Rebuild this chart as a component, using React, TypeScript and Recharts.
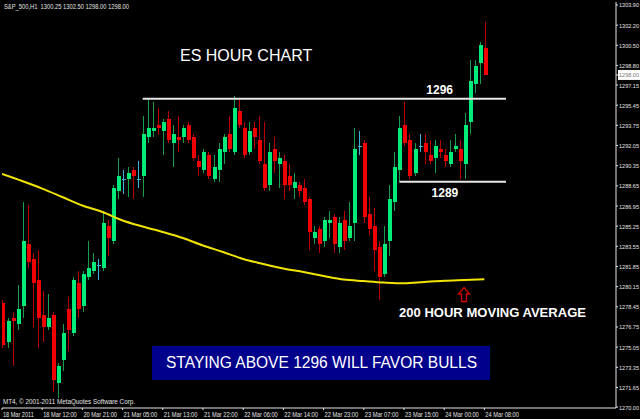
import React from 'react';
import { ComposedChart, Bar, Line, XAxis, YAxis, ReferenceLine } from 'recharts';

// Hourly S&P 500 futures bars, oldest first
const opens = [
  1278.75, 1275.5, 1277.5, 1277.0, 1278.5, 1283.75, 1282.5, 1280.75, 1277.75, 1276.75,
  1277.75, 1272.0, 1274.0, 1278.25, 1276.25, 1280.5, 1278.5, 1281.0, 1281.5, 1282.0,
  1281.75, 1285.25, 1284.0, 1288.25, 1289.25, 1289.25, 1290.0, 1289.25, 1289.5, 1292.75,
  1293.25, 1293.75, 1293.25, 1294.25, 1292.25, 1292.75, 1292.75, 1293.75, 1292.75, 1290.75,
  1290.0, 1291.25, 1289.25, 1290.0, 1291.5, 1293.0, 1291.5, 1295.0, 1293.5, 1291.5,
  1293.5, 1292.5, 1290.5, 1288.75, 1291.75, 1290.5, 1290.75, 1289.5, 1288.5, 1288.75,
  1288.5, 1287.5, 1284.25, 1285.0, 1284.0, 1285.5, 1286.0, 1283.5, 1285.75, 1284.25,
  1285.5, 1292.0, 1292.25, 1286.25, 1285.25, 1283.5, 1281.25, 1284.0, 1287.25, 1290.0,
  1293.75, 1292.5, 1289.75, 1292.0, 1292.25, 1291.25, 1291.0, 1291.75, 1291.25, 1290.5,
  1291.75, 1291.75, 1290.5, 1294.0, 1297.25, 1299.0, 1300.25,
];
const highs = [
  1279.0, 1277.5, 1278.0, 1280.25, 1287.25, 1287.0, 1283.0, 1283.25, 1279.75, 1279.5,
  1278.0, 1273.75, 1277.0, 1279.25, 1281.0, 1281.5, 1281.5, 1284.0, 1283.0, 1282.5,
  1286.5, 1285.75, 1288.75, 1291.0, 1290.0, 1290.25, 1290.25, 1290.75, 1294.5, 1296.0,
  1295.75, 1295.25, 1294.25, 1295.0, 1293.75, 1294.5, 1293.75, 1294.0, 1293.0, 1291.25,
  1291.75, 1291.5, 1291.25, 1292.25, 1293.0, 1294.5, 1296.25, 1296.0, 1294.0, 1294.0,
  1294.0, 1294.5, 1294.0, 1292.25, 1292.75, 1291.5, 1291.25, 1290.5, 1289.75, 1289.0,
  1289.25, 1287.75, 1285.25, 1285.25, 1286.0, 1286.5, 1286.25, 1286.0, 1286.5, 1287.25,
  1293.5, 1293.25, 1292.5, 1287.75, 1286.75, 1284.0, 1285.25, 1288.75, 1291.5, 1294.5,
  1295.75, 1293.0, 1292.25, 1293.0, 1293.0, 1292.5, 1292.5, 1292.5, 1291.75, 1292.5,
  1293.0, 1292.5, 1294.75, 1299.25, 1299.25, 1300.75, 1302.5,
];
const lows = [
  1275.0, 1275.0, 1273.5, 1276.5, 1277.5, 1281.75, 1276.75, 1275.0, 1275.5, 1276.5,
  1271.25, 1270.75, 1273.0, 1274.75, 1276.0, 1277.5, 1278.0, 1280.75, 1281.25, 1280.75,
  1281.5, 1282.75, 1283.75, 1287.5, 1288.0, 1287.75, 1287.5, 1288.5, 1287.75, 1292.25,
  1292.75, 1293.0, 1291.25, 1292.25, 1290.25, 1291.5, 1292.25, 1292.25, 1290.75, 1289.5,
  1289.75, 1289.25, 1289.0, 1289.0, 1290.5, 1291.5, 1291.25, 1293.5, 1291.0, 1291.25,
  1291.75, 1290.5, 1288.25, 1288.25, 1289.75, 1288.5, 1287.5, 1288.25, 1287.5, 1287.75,
  1287.0, 1283.25, 1283.75, 1283.0, 1283.5, 1284.25, 1283.0, 1283.0, 1283.25, 1284.0,
  1284.0, 1291.25, 1285.5, 1284.5, 1281.5, 1279.0, 1281.0, 1282.75, 1286.5, 1289.0,
  1292.0, 1289.25, 1289.5, 1291.5, 1290.5, 1290.5, 1289.75, 1291.0, 1290.25, 1290.25,
  1291.5, 1289.25, 1289.25, 1293.0, 1296.5, 1297.25, 1298.0,
];
const closes = [
  1275.25, 1277.25, 1277.25, 1278.25, 1284.0, 1282.25, 1280.5, 1277.5, 1276.75, 1277.5,
  1272.25, 1273.5, 1276.25, 1276.5, 1280.75, 1278.25, 1281.25, 1281.75, 1282.25, 1282.0,
  1285.5, 1284.25, 1288.5, 1289.5, 1289.25, 1289.75, 1289.5, 1289.25, 1293.0, 1293.5,
  1293.5, 1293.5, 1294.0, 1292.5, 1293.0, 1292.5, 1293.5, 1292.5, 1291.0, 1290.25,
  1291.5, 1289.5, 1290.25, 1291.75, 1292.75, 1291.75, 1295.25, 1293.75, 1291.25, 1293.25,
  1292.75, 1290.75, 1288.5, 1291.5, 1290.75, 1291.0, 1288.75, 1288.75, 1289.0, 1288.25,
  1287.25, 1284.75, 1284.75, 1283.75, 1285.75, 1285.75, 1283.75, 1285.5, 1284.0, 1285.25,
  1291.75, 1292.0, 1286.0, 1285.0, 1283.25, 1281.0, 1283.75, 1287.5, 1290.25, 1293.5,
  1292.25, 1289.5, 1291.75, 1292.0, 1291.5, 1290.75, 1292.0, 1291.5, 1290.75, 1291.5,
  1292.0, 1290.75, 1293.75, 1297.5, 1298.75, 1300.5, 1298.0,
];

// 200-period moving average, sampled every fourth bar
const maBars = [0, 4, 8, 12, 16, 20, 24, 28, 32, 36, 40, 44, 48, 52, 56, 60, 64, 68, 72, 76, 80, 84, 88, 92, 96];
const maValues = [
  1289.65, 1289.06, 1288.42, 1287.71, 1286.99, 1286.44, 1285.73, 1285.22, 1284.76, 1284.25,
  1283.62, 1283.07, 1282.48, 1282.06, 1281.68, 1281.38, 1281.05, 1280.75, 1280.62, 1280.5,
  1280.43, 1280.54, 1280.65, 1280.71, 1280.77,
];

const timeTickBars = [0, 8, 16, 24, 32, 40, 48, 56, 64, 72, 80, 88, 96];
const timeTickLabels = [
  '18 Mar 2011', '18 Mar 12:00', '20 Mar 21:00', '21 Mar 05:00', '21 Mar 13:00',
  '21 Mar 22:00', '22 Mar 06:00', '22 Mar 14:00', '22 Mar 23:00', '23 Mar 07:00',
  '23 Mar 15:00', '24 Mar 00:00', '24 Mar 08:00',
];

const priceTicks = [
  1303.9, 1302.2, 1300.5, 1298.8, 1297.15, 1295.45, 1293.75, 1292.05, 1290.35, 1288.65,
  1286.95, 1285.25, 1283.55, 1281.85, 1280.15, 1278.45, 1276.75, 1275.05, 1273.35, 1271.65, 1270.0,
];

const symbol = 'S&P_500,H1';
const resistance = 1296;
const support = 1289;

const last = opens.length - 1;
const lastClose = closes[last];

const rows = opens.map((open, i) => ({
  i,
  open,
  high: highs[i],
  low: lows[i],
  close: closes[i],
  range: [lows[i], highs[i]],
  ma: null as number | null,
}));
maBars.forEach((b, k) => {
  rows[b].ma = maValues[k];
});

const BULL_BODY = '#00EC78';
const BULL_WICK = '#179C4C';
const BEAR_BODY = '#F00000';
const BEAR_WICK = '#B80000';
const DOJI = '#3BB4D6';
const FRAME = '#E4E4E4';
const ARIAL = '"Liberation Sans", Arial, sans-serif';

const Candle = (props: any) => {
  const { x, y, width, height, payload } = props;
  if (x == null || y == null || !payload) return null;
  const { open, close, high, low } = payload;
  const top = Math.min(y, y + height);
  const bottom = Math.max(y, y + height);
  const k = high > low ? (bottom - top) / (high - low) : 0;
  const py = (p: number) => top + (high - p) * k;
  const c = Math.round(x + width / 2);
  const yo = py(open);
  const yc = py(close);
  if (open === close) {
    const yy = Math.round(yo) + 0.5;
    return (
      <g shapeRendering="crispEdges">
        <line x1={c + 0.5} x2={c + 0.5} y1={top} y2={bottom} stroke={DOJI} strokeWidth={1} />
        <line x1={c - 1} x2={c + 3} y1={yy} y2={yy} stroke={DOJI} strokeWidth={1} />
      </g>
    );
  }
  const up = close > open;
  const bTop = Math.min(yo, yc);
  const bH = Math.max(1, Math.abs(yc - yo));
  return (
    <g shapeRendering="crispEdges">
      <line x1={c + 0.5} x2={c + 0.5} y1={top} y2={bottom} stroke={up ? BULL_WICK : BEAR_WICK} strokeWidth={1} />
      <rect x={c - 1} y={bTop} width={4} height={bH} fill={up ? BULL_BODY : BEAR_BODY} />
    </g>
  );
};

const PriceTick = (props: any) => {
  const { x, y, payload } = props;
  const v: number = payload.value;
  const s = v.toFixed(2);
  if (v === lastClose) {
    return (
      <g>
        <rect x={x - 1} y={y - 5} width={22} height={10} fill="#FFFFFF" />
        <text x={x} y={y + 2.5} fontSize={5.8} fontFamily={ARIAL} fill="#7A7A7A" textLength={20} lengthAdjust="spacingAndGlyphs">
          {s}
        </text>
      </g>
    );
  }
  return (
    <text x={x} y={y + 2.5} fontSize={5.8} fontFamily={ARIAL} fill={FRAME} textLength={20} lengthAdjust="spacingAndGlyphs">
      {s}
    </text>
  );
};

const TimeTick = (props: any) => {
  const { x, y, payload } = props;
  const k = timeTickBars.indexOf(payload.value);
  const label = timeTickLabels[k] ?? '';
  return (
    <text x={x + 1} y={y + 5} fontSize={6.5} fontFamily={ARIAL} fill={FRAME} textLength={label.length * 2.8} lengthAdjust="spacingAndGlyphs">
      {label}
    </text>
  );
};

const LevelLabel = (props: any) => {
  const { viewBox, text, dx, dy } = props;
  if (!viewBox) return null;
  return (
    <text x={viewBox.x + dx} y={viewBox.y + dy} textAnchor="middle" fontSize={12} fontWeight="bold" fontFamily={ARIAL} fill="#FFFFFF">
      {text}
    </text>
  );
};

export default function App() {
  const header = `${symbol}  ${opens[last].toFixed(2)} ${highs[last].toFixed(2)} ${lows[last].toFixed(2)} ${closes[last].toFixed(2)}`;
  const banner = `STAYING ABOVE ${resistance} WILL FAVOR BULLS`;
  return (
    <div style={{ position: 'absolute', left: 0, top: 0, width: 640, height: 419, background: '#000000', overflow: 'hidden' }}>
      <ComposedChart width={640} height={419} data={rows} margin={{ top: 2, right: 0, bottom: 0, left: 2 }}>
        <XAxis
          dataKey="i"
          type="number"
          domain={[0, 122.2]}
          allowDataOverflow
          ticks={timeTickBars}
          interval={0}
          height={11}
          tickSize={2}
          tickMargin={2}
          tickLine={{ stroke: FRAME }}
          axisLine={{ stroke: FRAME }}
          tick={<TimeTick />}
        />
        <XAxis xAxisId="frameTop" orientation="top" height={0} tick={false} tickLine={false} axisLine={{ stroke: FRAME }} />
        <YAxis
          orientation="right"
          type="number"
          domain={[1269.92, 1304.15]}
          allowDataOverflow
          ticks={[...priceTicks, lastClose]}
          interval={0}
          width={24}
          tickSize={2}
          tickMargin={1}
          tickLine={{ stroke: FRAME }}
          axisLine={{ stroke: FRAME }}
          tick={<PriceTick />}
        />
        <YAxis yAxisId="frameLeft" orientation="left" width={0} tick={false} tickLine={false} axisLine={{ stroke: FRAME }} />
        <Line
          dataKey="ma"
          type="monotone"
          connectNulls
          dot={false}
          stroke="#F0E400"
          strokeWidth={2}
          isAnimationActive={false}
        />
        <Bar dataKey="range" barSize={4} shape={<Candle />} isAnimationActive={false} />
        <ReferenceLine
          segment={[{ x: 28, y: resistance }, { x: 100.3, y: resistance }]}
          stroke="#E6E6E6"
          strokeWidth={2}
          label={<LevelLabel text={String(resistance)} dx={297} dy={-4.5} />}
        />
        <ReferenceLine
          segment={[{ x: 79.1, y: support }, { x: 100.3, y: support }]}
          stroke="#E6E6E6"
          strokeWidth={2}
          label={<LevelLabel text={String(support)} dx={45.5} dy={15} />}
        />
      </ComposedChart>
      <svg width={640} height={419} style={{ position: 'absolute', left: 0, top: 0, pointerEvents: 'none' }}>
        <text x={4} y={8.5} fontSize={6.5} fontFamily={ARIAL} fill={FRAME} textLength={125} lengthAdjust="spacingAndGlyphs" xmlSpace="preserve">
          {header}
        </text>
        <text x={180} y={61} fontSize={16} fontFamily={ARIAL} fill="#FFFFFF">
          ES HOUR CHART
        </text>
        <text x={399} y={317} fontSize={12} fontWeight="bold" fontFamily={ARIAL} fill="#FFFFFF" textLength={187} lengthAdjust="spacingAndGlyphs">
          200 HOUR MOVING AVERAGE
        </text>
        <path
          d="M464 287.5 L469.5 294 L466.5 294 L466.5 301.5 L461.5 301.5 L461.5 294 L458.5 294 Z"
          fill="none"
          stroke="#D80000"
          strokeWidth={1.3}
        />
        <rect x={152} y={346} width={338} height={34} fill="#00008C" />
        <text x={166} y={368} fontSize={16} fontFamily={ARIAL} fill="#FFFFFF" textLength={311} lengthAdjust="spacingAndGlyphs">
          {banner}
        </text>
        <text x={3} y={404} fontSize={6.5} fontFamily={ARIAL} fill={FRAME} textLength={132} lengthAdjust="spacingAndGlyphs">
          MT4, © 2001-2011 MetaQuotes Software Corp.
        </text>
      </svg>
    </div>
  );
}
